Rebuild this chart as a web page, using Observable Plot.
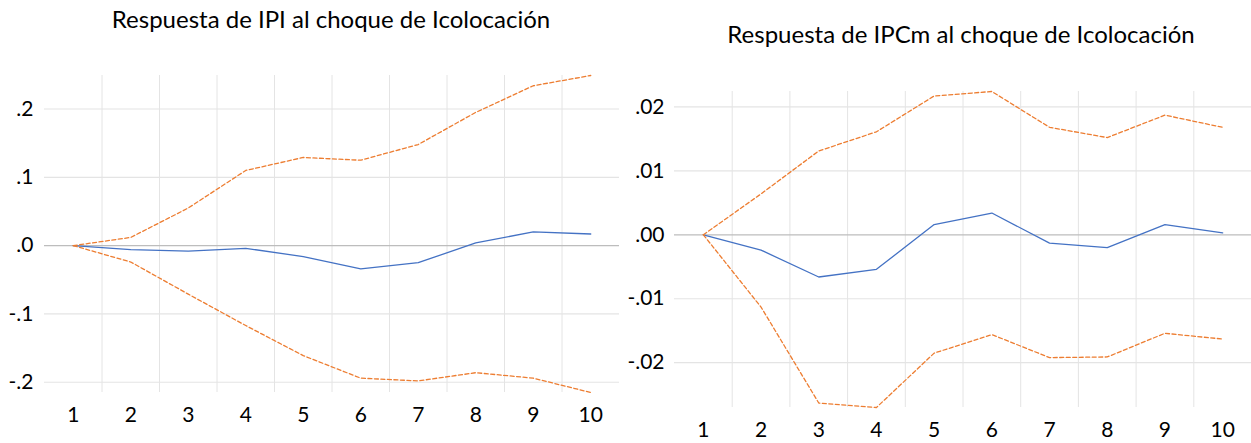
<!DOCTYPE html>
<html>
<head>
<meta charset="utf-8">
<script src="https://cdn.jsdelivr.net/npm/d3@7"></script>
<script src="https://cdn.jsdelivr.net/npm/@observablehq/plot@0.6"></script>
<style>
  html, body { margin: 0; padding: 0; background: #fff; }
  #root { position: relative; width: 1251px; height: 443px; overflow: hidden; font-family: Lato, "Open Sans", sans-serif; }
  .title { position: absolute; white-space: nowrap; font-size: 24px; line-height: 24px; color: #000; transform: translateX(-50%); }
  .panel { position: absolute; }
</style>
</head>
<body>
<div id="root"></div>
<script>
// ---- Data ----
const periods = [1, 2, 3, 4, 5, 6, 7, 8, 9, 10];

// Respuesta de IPI al choque de Icolocación
const ipiResponse = [0, -0.006, -0.008, -0.004, -0.016, -0.034, -0.025, 0.004, 0.020, 0.017];
const ipiUpper    = [0, 0.012, 0.055, 0.110, 0.129, 0.125, 0.148, 0.195, 0.234, 0.249];
const ipiLower    = [0, -0.024, -0.071, -0.117, -0.161, -0.194, -0.198, -0.186, -0.194, -0.215];

// Respuesta de IPCm al choque de Icolocación
const ipcmResponse = [0, -0.0024, -0.0066, -0.0054, 0.0016, 0.0034, -0.0013, -0.0020, 0.0016, 0.0003];
const ipcmUpper    = [0, 0.0064, 0.0131, 0.0161, 0.0217, 0.0224, 0.0168, 0.0152, 0.0187, 0.0168];
const ipcmLower    = [0, -0.0113, -0.0263, -0.0270, -0.0185, -0.0156, -0.0192, -0.0191, -0.0154, -0.0163];

// Tick values and labels
const ipiTicks = [0.2, 0.1, 0, -0.1, -0.2];
const ipiTickLabels = [".2", ".1", ".0", "-.1", "-.2"];
const ipcmTicks = [0.02, 0.01, 0, -0.01, -0.02];
const ipcmTickLabels = [".02", ".01", ".00", "-.01", "-.02"];

const titles = ["Respuesta de IPI al choque de Icolocación", "Respuesta de IPCm al choque de Icolocación"];

// ---- Drawing ----
const root = document.getElementById("root");
const BLUE = "#4472C4", ORANGE = "#ED7D31", GRID = "#e4e4e4", ZERO = "#bdbdbd";

function panel({left, top, width, height, margins, resp, up, lo, ticks, labels, title, titleX, titleTop, padY}) {
  const t = document.createElement("div");
  t.className = "title";
  t.textContent = title;
  t.style.left = titleX + "px";
  t.style.top = titleTop + "px";
  root.appendChild(t);

  const mk = arr => periods.map((p, i) => ({p, v: arr[i]}));
  const all = resp.concat(up, lo);
  const bounds = periods.slice(0, -1).map(p => p + 0.5);
  const fmt = d => labels[ticks.indexOf(d)] ?? "";

  const chart = Plot.plot({
    width, height,
    marginTop: margins[0], marginRight: margins[1], marginBottom: margins[2], marginLeft: margins[3],
    style: {fontFamily: "Lato, 'Open Sans', sans-serif", fontSize: "21px", color: "#000", background: "transparent", overflow: "visible"},
    x: {type: "linear", domain: [0.5, 10.5], label: null},
    y: {domain: d3.extent(all), label: null},
    marks: [
      Plot.ruleX(bounds, {stroke: GRID, strokeWidth: 1}),
      Plot.ruleY(ticks.filter(d => d !== 0), {stroke: GRID, strokeWidth: 1.2}),
      Plot.ruleY([0], {stroke: ZERO, strokeWidth: 1.2}),
      Plot.axisX(periods, {ticks: periods, tickSize: 0, tickPadding: 15, tickFormat: d => String(d), fontSize: 21, label: null}),
      Plot.axisY(ticks, {ticks: ticks, tickSize: 0, tickPadding: padY, tickFormat: fmt, fontSize: 21, label: null}),
      Plot.line(mk(resp), {x: "p", y: "v", stroke: BLUE, strokeWidth: 1.3}),
      Plot.line(mk(up), {x: "p", y: "v", stroke: ORANGE, strokeWidth: 1.3, strokeDasharray: "4,2.5"}),
      Plot.line(mk(lo), {x: "p", y: "v", stroke: ORANGE, strokeWidth: 1.3, strokeDasharray: "4,2.5"})
    ]
  });
  const wrap = document.createElement("div");
  wrap.className = "panel";
  wrap.style.left = left + "px";
  wrap.style.top = top + "px";
  wrap.appendChild(chart);
  root.appendChild(wrap);
}

panel({left: 0, top: 50, width: 625, height: 393, margins: [25, 6, 51, 44],
  resp: ipiResponse, up: ipiUpper, lo: ipiLower, ticks: ipiTicks, labels: ipiTickLabels,
  title: titles[0], titleX: 331, titleTop: 7, padY: 11});

panel({left: 625, top: 50, width: 626, height: 393, margins: [41, 0, 36, 49],
  resp: ipcmResponse, up: ipcmUpper, lo: ipcmLower, ticks: ipcmTicks, labels: ipcmTickLabels,
  title: titles[1], titleX: 961, titleTop: 22, padY: 10});
</script>
</body>
</html>
